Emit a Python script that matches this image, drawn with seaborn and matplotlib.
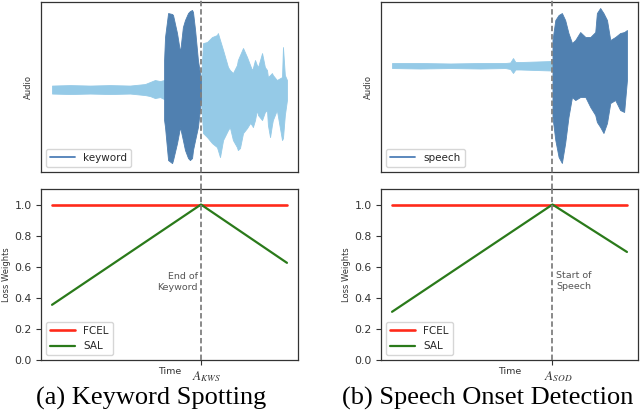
import numpy as np
import pandas as pd
import seaborn as sns
import matplotlib
matplotlib.use("Agg")
import matplotlib.pyplot as plt
import matplotlib.transforms as mtransforms
from matplotlib.lines import Line2D

# ---------------- data ----------------
# (a) keyword spotting audio envelope (normalised time 0..1)
kws_pre_t = [0.0, 0.077, 0.162, 0.247, 0.332, 0.396, 0.417, 0.438, 0.46, 0.477]
kws_pre_hi = [0.05, 0.056, 0.05, 0.056, 0.05, 0.069, 0.094, 0.119, 0.106, 0.119]
kws_pre_lo = [-0.05, -0.056, -0.05, -0.056, -0.05, -0.069, -0.081, -0.106, -0.094, -0.119]

kws_kw_t = [0.477, 0.481, 0.494, 0.511, 0.515, 0.532, 0.545, 0.557, 0.566, 0.579,
            0.587, 0.596, 0.60, 0.609, 0.621, 0.634]
kws_kw_hi = [0.369, 0.656, 0.956, 0.944, 0.931, 0.706, 0.469, 0.781, 0.869, 0.956,
             0.981, 0.994, 0.969, 0.744, 0.369, 0.119]
kws_kw_lo = [-0.381, -0.469, -0.881, -0.919, -0.881, -0.669, -0.469, -0.631, -0.756, -0.856,
             -0.881, -0.856, -0.756, -0.631, -0.469, -0.131]

kws_post_t = [0.634, 0.643, 0.66, 0.681, 0.702, 0.706, 0.715, 0.728, 0.749, 0.757,
              0.770, 0.787, 0.791, 0.80, 0.813, 0.830, 0.843, 0.851, 0.855, 0.864,
              0.872, 0.877, 0.894, 0.906, 0.915, 0.919, 0.928, 0.936, 0.94, 0.957,
              0.979, 0.983, 0.991, 1.0]
kws_post_hi = [0.119, 0.581, 0.594, 0.656, 0.681, 0.706, 0.619, 0.494, 0.281, 0.244,
               0.206, 0.306, 0.369, 0.431, 0.519, 0.406, 0.306, 0.244, 0.269, 0.369,
               0.306, 0.281, 0.456, 0.281, 0.244, 0.156, 0.181, 0.206, 0.181, 0.119,
               0.156, 0.531, 0.181, 0.119]
kws_post_lo = [-0.131, -0.544, -0.594, -0.669, -0.719, -0.756, -0.844, -0.631, -0.506, -0.469,
               -0.631, -0.719, -0.756, -0.731, -0.544, -0.481, -0.419, -0.444, -0.469, -0.381,
               -0.256, -0.319, -0.381, -0.281, -0.256, -0.444, -0.594, -0.444, -0.381, -0.256,
               -0.631, -0.606, -0.319, -0.131]

# (b) speech onset audio envelope
sod_pre_t = [0.0, 0.120, 0.248, 0.376, 0.482, 0.503, 0.515, 0.525, 0.546, 0.610, 0.674, 0.683]
sod_pre_hi = [0.028, 0.028, 0.023, 0.028, 0.028, 0.033, 0.079, 0.038, 0.038, 0.043, 0.048, 0.059]
sod_pre_lo = [-0.024, -0.029, -0.024, -0.029, -0.024, -0.034, -0.075, -0.039, -0.039, -0.044, -0.049, -0.055]

sod_sp_t = [0.683, 0.695, 0.709, 0.723, 0.737, 0.751, 0.766, 0.780, 0.801, 0.823,
            0.844, 0.865, 0.872, 0.886, 0.900, 0.915, 0.929, 0.950, 0.971, 0.988, 1.0]
sod_sp_hi = [0.265, 0.471, 0.523, 0.543, 0.471, 0.337, 0.234, 0.265, 0.347, 0.296,
             0.296, 0.347, 0.543, 0.595, 0.543, 0.471, 0.265, 0.296, 0.337, 0.347, 0.368]
sod_sp_lo = [-0.529, -0.766, -0.941, -1.003, -0.797, -0.529, -0.323, -0.354, -0.323, -0.323,
             -0.426, -0.508, -0.580, -0.632, -0.694, -0.591, -0.385, -0.354, -0.457, -0.477, -0.147]

# loss weights
kws_time = [0.0, 0.634, 1.0]
kws_sal = [0.355, 1.0, 0.625]
kws_fcel = [1.0, 1.0, 1.0]
sod_time = [0.0, 0.683, 1.0]
sod_sal = [0.31, 1.0, 0.695]
sod_fcel = [1.0, 1.0, 1.0]

kws_anchor = 0.634
sod_anchor = 0.683
y_ticks = [0.0, 0.2, 0.4, 0.6, 0.8, 1.0]

# ---------------- style ----------------
sns.set_theme(style="ticks")
plt.rcParams.update({
    "font.family": ["DejaVu Sans"],
    "mathtext.fontset": "stix",
    "axes.edgecolor": "#333333",
    "axes.linewidth": 0.9,
    "xtick.color": "#333333",
    "ytick.color": "#333333",
    "xtick.major.size": 3.5,
    "ytick.major.size": 3.5,
    "xtick.major.width": 0.8,
    "ytick.major.width": 0.8,
    "xtick.major.pad": 3,
    "ytick.major.pad": 3,
})

LIGHT = "#95cae7"
DARK = "#5080b0"
LEG_BLUE = "#4e7fb8"
DASH = "#808080"

fig = plt.figure(figsize=(6.4, 4.18), dpi=100)
W, H = 640.0, 418.0


def add_ax(x0, y0, x1, y1):
    return fig.add_axes([x0 / W, 1 - y1 / H, (x1 - x0) / W, (y1 - y0) / H])


ax_a_top = add_ax(41, 2, 298, 172)
ax_a_bot = add_ax(41, 189, 298, 360)
ax_b_top = add_ax(381, 2, 638, 172)
ax_b_bot = add_ax(381, 189, 638, 360)

XLIM = (-0.047, 1.047)

# ---------------- audio panels ----------------
def audio_panel(ax, segments, ylim, label, anchor):
    for t, hi, lo, col in segments:
        ax.fill_between(t, lo, hi, color=col, linewidth=0.6, edgecolor=col, zorder=2)
    ax.set_xlim(*XLIM)
    ax.set_ylim(*ylim)
    ax.set_xticks([])
    ax.set_yticks([])
    ax.set_ylabel("Audio", fontsize=6, color="#333333", labelpad=6)
    ax.axvline(anchor, ymin=-0.1, ymax=1.02, clip_on=False, color=DASH,
               lw=1.3, dashes=(3, 1.6), zorder=4)
    h = Line2D([], [], color=LEG_BLUE, lw=1.3)
    ax.legend([h], [label], loc="lower left", fontsize=7.5, handlelength=2.4,
              frameon=True, fancybox=True, framealpha=0.8, edgecolor="#cccccc",
              borderaxespad=0.45)
    for s in ax.spines.values():
        s.set_visible(True)


audio_panel(ax_a_top,
            [(kws_pre_t, kws_pre_hi, kws_pre_lo, LIGHT),
             (kws_post_t, kws_post_hi, kws_post_lo, LIGHT),
             (kws_kw_t, kws_kw_hi, kws_kw_lo, DARK)],
            (-1.03, 1.094), "keyword", kws_anchor)
audio_panel(ax_b_top,
            [(sod_pre_t, sod_pre_hi, sod_pre_lo, LIGHT),
             (sod_sp_t, sod_sp_hi, sod_sp_lo, DARK)],
            (-1.096, 0.657), "speech", sod_anchor)

# ---------------- loss weight panels ----------------
def loss_panel(ax, t, fcel, sal, anchor, tick_label, note, note_side, note_y):
    sns.lineplot(x=[t[0], t[-1]], y=[fcel[0], fcel[-1]], ax=ax, color="#ff2a1a",
                 lw=1.9, label="FCEL", zorder=3)
    sns.lineplot(x=t, y=sal, ax=ax, color="#2a7a1a", lw=1.6, label="SAL", zorder=3)
    ax.set_xlim(*XLIM)
    ax.set_ylim(0, 1.1)
    ax.set_yticks(y_ticks)
    ax.set_yticklabels([f"{v:.1f}" for v in y_ticks], fontsize=7.8)
    ax.set_xticks([anchor])
    ax.set_xticklabels([tick_label], fontsize=9.5)
    off = mtransforms.ScaledTranslation(6 / 100, 0, fig.dpi_scale_trans)
    for lab in ax.get_xticklabels():
        lab.set_transform(lab.get_transform() + off)
    ax.set_xlabel("Time", fontsize=6.8, color="#333333")
    ax.xaxis.set_label_coords(0.5, -0.04)
    ax.set_ylabel("Loss Weights", fontsize=6, color="#333333", labelpad=2.5)
    ax.axvline(anchor, ymin=0, ymax=1.0, clip_on=False, color=DASH,
               lw=1.3, dashes=(3, 1.6), zorder=4)
    if note_side == "left":
        ax.text(anchor - 0.013, note_y, note, ha="right", va="center",
                fontsize=6.8, color="#555555", linespacing=1.25)
    else:
        ax.text(anchor + 0.015, note_y, note, ha="left", va="center",
                fontsize=6.8, color="#555555", linespacing=1.25)
    ax.legend(loc="lower left", fontsize=7.5, handlelength=2.4, frameon=True,
              fancybox=True, framealpha=0.8, edgecolor="#cccccc", borderaxespad=0.45)
    for s in ax.spines.values():
        s.set_visible(True)


loss_panel(ax_a_bot, kws_time, kws_fcel, kws_sal, kws_anchor, r"$A_{KWS}$",
           "End of\nKeyword", "left", 0.5)
loss_panel(ax_b_bot, sod_time, sod_fcel, sod_sal, sod_anchor, r"$A_{SOD}$",
           "Start of\nSpeech", "right", 0.51)

# ---------------- captions ----------------
fig.text(151 / W, 1 - 405 / H, "(a) Keyword Spotting", ha="center", va="baseline",
         fontsize=19, family="Liberation Serif", color="black")
fig.text(487.5 / W, 1 - 405 / H, "(b) Speech Onset Detection", ha="center", va="baseline",
         fontsize=19, family="Liberation Serif", color="black")

fig.savefig("out.png", dpi=100)
